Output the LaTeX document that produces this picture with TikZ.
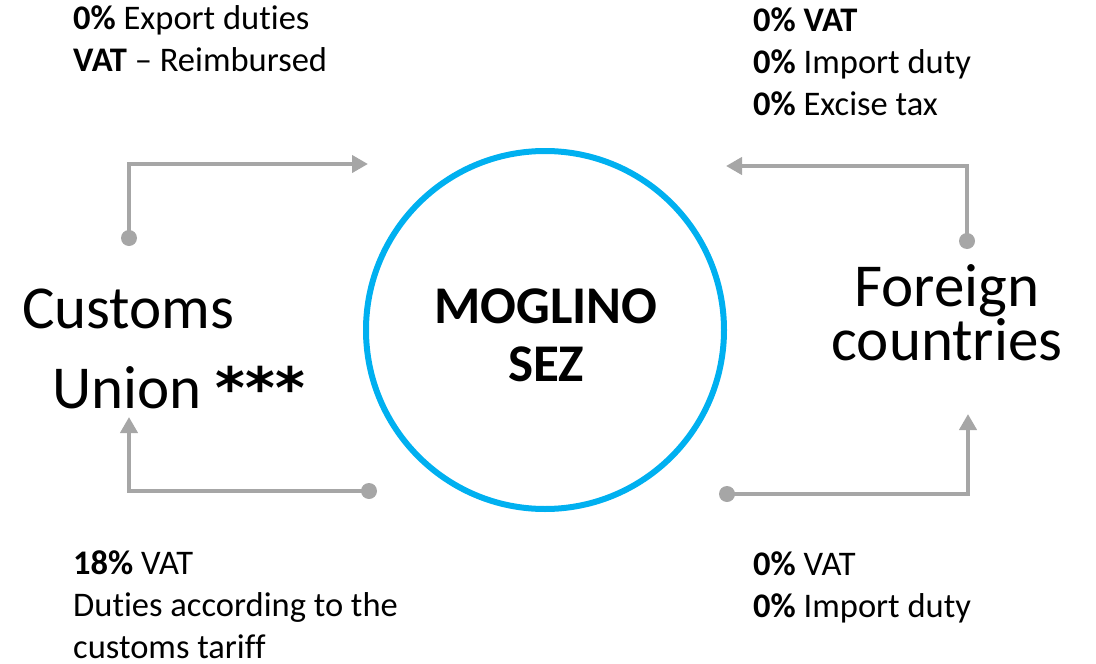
\documentclass[tikz,border=0pt]{standalone}
\usepackage{fontspec}
\setmainfont{Carlito}[Ligatures=NoCommon]
\newfontfamily\starfont{DejaVu Sans}
\usetikzlibrary{arrows.meta,positioning}
\definecolor{sezblue}{HTML}{00B0F0}
\definecolor{flowgray}{HTML}{A6A6A6}

\begin{document}
\begin{tikzpicture}[x=1pt,y=-1pt,inner sep=0pt,
  note/.style={anchor=base west,align=left,font=\fontsize{34.5}{42}\selectfont},
  big/.style={anchor=base west,font=\fontsize{61}{52}\selectfont},
  dot/.style={circle,fill=flowgray,minimum size=16pt},
  flow/.style={draw=flowgray,line width=4pt,-{Triangle[length=16pt,width=17pt]}}]
  \useasboundingbox (0,0) rectangle (1096,664);
  % the zone
  \node[circle,draw=sezblue,line width=6pt,minimum size=358pt] (sez) at (545,330) {};
  \node[align=center,anchor=base,font=\fontsize{53}{58}\selectfont\bfseries] (sezname) at (546,381) {MOGLINO\\SEZ};
  % both sides
  \node[big] (cu1) at (22,328) {Customs};
  \node[big] (cu2) at (52,408) {Union {\starfont\bfseries\fontsize{57}{57}\selectfont***}};
  \node[big,anchor=base,align=center] (fc) at (947,360) {Foreign\\countries};
  % flows
  \node[dot] (tlDot) at (129,238) {};
  \coordinate (tlTip) at (368,164);
  \node[dot] (trDot) at (967,241) {};
  \coordinate (trTip) at (726,166);
  \node[dot] (blDot) at (369,491) {};
  \coordinate (blTip) at (129,417);
  \node[dot] (brDot) at (727,494) {};
  \coordinate (brTip) at (968,414);
  \draw[flow] (tlDot.center) |- (tlTip);
  \draw[flow] (trDot.center) |- (trTip);
  \draw[flow] (blDot.center) -| (blTip);
  \draw[flow] (brDot.center) -| (brTip);
  % rates
  \node[note] (tlText) at (73,71) {\textbf{0\%} Export duties\\\textbf{VAT} -- Reimbursed};
  \node[note] (trText) at (753,115) {\textbf{0\% VAT}\\\textbf{0\%} Import duty\\\textbf{0\%} Excise tax};
  \node[note] (blText) at (73,658) {\textbf{18\%} VAT\\Duties according to the\\customs tariff};
  \node[note] (brText) at (753,617) {\textbf{0\%} VAT\\\textbf{0\%} Import duty};
\end{tikzpicture}
\end{document}
